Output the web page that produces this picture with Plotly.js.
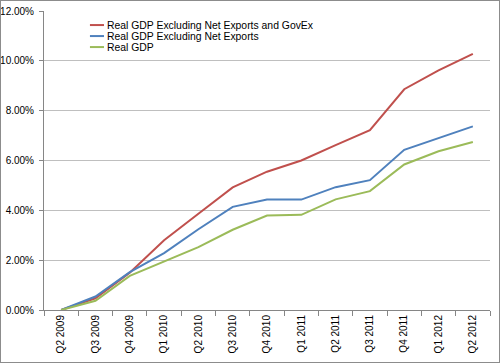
<!DOCTYPE html>
<html><head><meta charset="utf-8">
<script src="https://cdn.plot.ly/plotly-3.0.1.min.js"></script>
<style>
html,body{margin:0;padding:0;background:#fff;}
#wrap{width:500px;height:363px;box-sizing:border-box;border:1px solid #8c8c8c;}
#chart{width:498px;height:361px;}
</style>
</head><body>
<div id="wrap"><div id="chart"></div></div>
<script>
const quarters = ["Q2 2009","Q3 2009","Q4 2009","Q1 2010","Q2 2010","Q3 2010","Q4 2010","Q1 2011","Q2 2011","Q3 2011","Q4 2011","Q1 2012","Q2 2012"];
const gdpExNetExpGovEx = [0.00,0.47,1.50,2.80,3.86,4.92,5.55,6.00,6.62,7.22,8.86,9.62,10.28];
const gdpExNetExp = [0.00,0.54,1.52,2.28,3.24,4.14,4.43,4.43,4.93,5.21,6.43,6.90,7.37];
const realGDP = [0.00,0.37,1.37,1.94,2.52,3.22,3.79,3.82,4.44,4.77,5.84,6.37,6.74];
const seriesNames = ["Real GDP Excluding Net Exports and GovEx","Real GDP Excluding Net Exports","Real GDP"];
const yTicks = [0,2,4,6,8,10,12];

const colors = ["#C0504D","#4F81BD","#9BBB59"];
const dataSets = [gdpExNetExpGovEx, gdpExNetExp, realGDP];
const traces = dataSets.map((d,i)=>({
  x: quarters, y: d.map(v=>v/100), name: seriesNames[i], type:'scatter', mode:'lines',
  line:{color:colors[i], width:2}, hoverinfo:'skip', showlegend:false
}));

// compact Excel-style legend built from series names/colours
const legX0 = 0.103, legX1 = 0.1345, legTop = 0.953, legStep = 0.0368;
const shapes = seriesNames.map((n,i)=>({
  type:'line', xref:'paper', yref:'paper', x0:legX0, x1:legX1,
  y0:legTop - i*legStep, y1:legTop - i*legStep, line:{color:colors[i], width:2}
}));
const annotations = seriesNames.map((n,i)=>({
  xref:'paper', yref:'paper', x:legX1+0.002, y:legTop - i*legStep,
  xanchor:'left', yanchor:'middle', text:n, showarrow:false,
  font:{size:10.4, color:'#000'}
}));

const layout = {
  width:498, height:361,
  margin:{l:43,r:9,t:10,b:52,pad:0},
  paper_bgcolor:'#fff', plot_bgcolor:'#fff',
  font:{family:'Liberation Sans, Arial, sans-serif', size:10, color:'#000'},
  showlegend:false,
  shapes: shapes, annotations: annotations,
  xaxis:{type:'category', range:[-0.5,12.5], tickangle:-90, showgrid:false,
    showline:true, linecolor:'#868686', linewidth:1, ticks:'outside', tickson:'boundaries',
    ticklen:5, tickcolor:'#868686', fixedrange:true, automargin:false},
  yaxis:{range:[0,0.12], tickvals:yTicks.map(v=>v/100), ticktext:yTicks.map(v=>v.toFixed(2)+'%'),
    showgrid:true, gridcolor:'#bfbfbf', gridwidth:1, zeroline:false,
    showline:true, linecolor:'#868686', linewidth:1, ticks:'outside', ticklen:4, tickcolor:'#868686',
    ticklabelstandoff:3, fixedrange:true, automargin:false}
};
Plotly.newPlot('chart', traces, layout, {displayModeBar:false, staticPlot:true});
</script>
</body></html>
